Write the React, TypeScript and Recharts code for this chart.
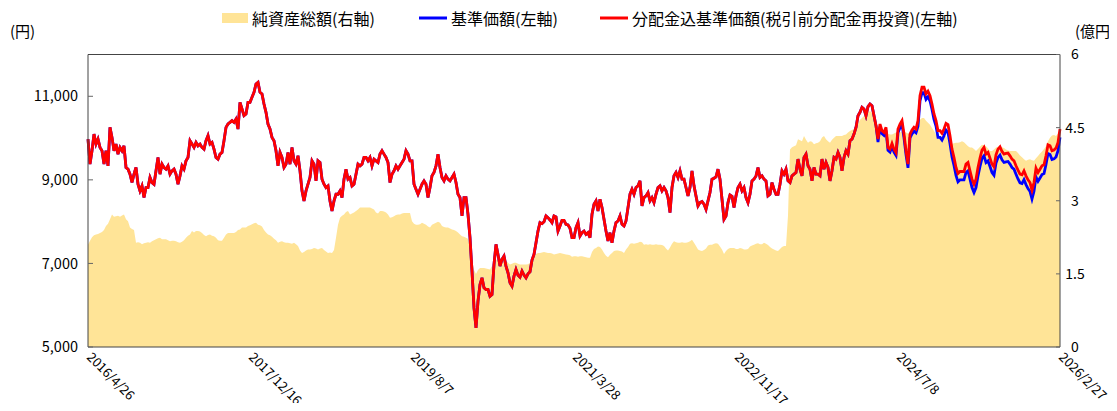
import React from 'react';
import { ComposedChart, Area, Line, XAxis, YAxis, ReferenceLine } from 'recharts';

const tickDates = ['2016/4/26', '2017/12/16', '2019/8/7', '2021/3/28', '2022/11/17', '2024/7/8', '2026/2/27'];
const leftTicks = [5000, 7000, 9000, 11000];
const rightTicks = [0, 1.5, 3, 4.5, 6];

// 分配金込基準価額 (red)
const reinvested = [
  9976, 9376, 9696, 10096, 9856, 9976, 9776, 9696, 9376, 9696,
  9336, 10256, 10016, 9696, 9856, 9616, 9776, 9696, 9816, 9296,
  9256, 9136, 8936, 9136, 9296, 8896, 8736, 8856, 8576, 8816,
  8816, 9056, 8936, 8896, 9216, 9536, 9136, 9376, 9296, 9256,
  9336, 9136, 9216, 9256, 9136, 8896, 9096, 9336, 9256, 9456,
  9536, 9936, 9856, 9776, 9896, 9816, 9856, 9776, 9736, 9936,
  10056, 9856, 9896, 9736, 9536, 9496, 9616, 9656, 9936, 10256,
  10336, 10376, 10416, 10376, 10456, 10216, 10856, 10696, 10536, 10576,
  10856,
  10856, 10976, 11096, 11296, 11336, 11096, 11056, 10816, 10616, 10336,
  10216, 10016, 9936, 9696, 9336, 9656, 9536, 9296, 9376, 9656,
  9376, 9776, 9456, 9376, 9576, 9216, 8736, 8496, 8736, 8896,
  9056, 9456, 9376, 8976, 9456, 9416, 9016, 8896, 8816,
  8856, 8496, 8256, 8496, 8656, 8656, 8736, 8576, 9016, 9256,
  9016, 9056, 8856, 8896, 9136, 9376, 9336, 9376, 9536, 9536,
  9456, 9536, 9336, 9496, 9456, 9416, 9616, 9696, 9616, 9536,
  9416, 8936, 9136, 9216, 9336, 9256, 9336, 9416, 9496, 9696,
  9616, 9456,
  9456, 8896, 8776, 8656, 8776, 8896, 8976, 8896, 8576, 8816,
  9096, 9176, 9336, 9616, 9296, 9056, 8976, 9096, 9016, 8976,
  9056, 9136, 8936, 8656, 8576, 8136, 8576, 8576, 8176, 7616,
  6816, 5936, 5456, 6096, 6496, 6656, 6416, 6376, 6376, 6216,
  6256, 6976, 7456, 7216, 6936, 7096, 7176, 6936, 6776, 6536,
  6456, 6696, 6856, 6720, 6672, 6816, 6720, 6656, 6752, 6800,
  7080, 7216, 7496, 7776, 7976, 7952, 8000, 8136, 8096, 8040,
  7976, 8136, 8112, 7776, 7896, 8032, 8032, 7936, 7920, 7840,
  7616,
  7616, 7856, 7976, 7656, 7736, 7776, 7696, 7736, 7616, 8176,
  8416, 8496, 8256, 8536, 8336, 8056, 7776, 7536, 7736, 7496,
  7776, 7976, 8016, 8136, 7936, 7896, 8016, 8336, 8656, 8776,
  8656, 8816, 8856, 8976, 8376, 8576, 8616, 8696, 8496, 8576,
  8456, 8656, 8816, 8856, 8736, 8816, 8736, 8576, 8216, 8816,
  9096, 9176, 9056, 9216, 9016, 9016, 8816, 8616, 8816, 9216,
  8856, 8616, 8376, 8456, 8480, 8416, 8296, 8496, 8696, 9016,
  9040, 9072, 9256, 9016, 8536, 8056, 8136, 8456, 8640, 8608,
  8336,
  8616, 8816, 8896, 8736, 8816, 8576, 8456, 8656, 8976, 9016,
  9096, 9296, 9056, 9096, 9016, 8976, 8616, 8656, 8936, 8776,
  8656, 8656, 8896, 9216, 9136, 9256, 8976, 8936, 9096, 9136,
  9176, 9496, 9256, 9096, 9536, 9616, 9336, 9256, 8976, 9296,
  9136, 9136, 9096, 9496, 9256, 9416, 9296, 8976, 9216, 9536,
  9496, 9656, 9536, 9216, 9536, 9696, 9616, 9936, 9976, 10096,
  10256, 10536, 10616, 10736, 10696, 10536, 10752, 10816, 10776, 10536,
  10296, 9976, 10336, 10176, 10136, 10256, 9776, 9736, 9872, 9736,
  9656,
  10216, 10336, 10416, 10096, 9696, 9376, 10096, 10192, 10256, 10216,
  10416, 11016, 11216, 11216, 11056, 11120, 11016, 10816, 10576, 10416,
  10176, 10176, 10112, 10216, 10352, 10320, 10056, 9736, 9536, 9296,
  9152, 9200, 9200, 9200, 9376, 9416, 9216, 9016, 8896, 9016,
  9296, 9520, 9712, 9776, 9616, 9656, 9520, 9376, 9312, 9600,
  9736, 9792, 9680, 9616, 9632, 9640, 9576, 9496, 9456, 9336,
  9232, 9136, 9120, 9216, 9096, 9000, 8936, 8752, 8936, 9280,
  9176, 9256, 9336, 9360, 9576, 9840, 9816, 9696, 9712, 9760,
  9896, 10216,
];

// 基準価額 (blue): identical to the red line until distributions begin
const navTail = [
  9906, 10266, 10106, 10066, 10186, 9706, 9666, 9802, 9666, 9586,
  10126, 10246, 10326, 10006, 9606, 9286, 10006, 10102, 10166, 10126,
  10286, 10886, 11086, 11086, 10926, 10990, 10886, 10686, 10446, 10286,
  10016, 10016, 9952, 10056, 10192, 10130, 9866, 9546, 9346, 9106,
  8952, 9000, 9000, 9000, 9176, 9216, 9016, 8816, 8696, 8816,
  9096, 9320, 9512, 9576, 9416, 9456, 9320, 9176, 9112, 9400,
  9536, 9592, 9480, 9416, 9432, 9440, 9376, 9296, 9256, 9136,
  9022, 8926, 8910, 9006, 8886, 8790, 8726, 8542, 8726, 9070,
  8966, 9046, 9126, 9150, 9366, 9630, 9606, 9486, 9502, 9550,
  9696, 10016,
];
const nav = [...reinvested.slice(0, reinvested.length - navTail.length), ...navTail];

// 純資産総額 (億円)
const assets = [
  2.10, 2.18, 2.25, 2.29, 2.31, 2.32, 2.34, 2.36, 2.40, 2.48,
  2.53, 2.62, 2.72, 2.67, 2.68, 2.69, 2.67, 2.70, 2.72, 2.62,
  2.58, 2.45, 2.42, 2.40, 2.14, 2.15, 2.14, 2.11, 2.13, 2.14,
  2.15, 2.14, 2.17, 2.19, 2.21, 2.23, 2.24, 2.21, 2.21, 2.21,
  2.19, 2.17, 2.18, 2.18, 2.17, 2.15, 2.14, 2.16, 2.19, 2.24,
  2.28, 2.31, 2.38, 2.35, 2.38, 2.38, 2.37, 2.34, 2.30, 2.27,
  2.30, 2.31, 2.28, 2.27, 2.24, 2.19, 2.18, 2.18, 2.24, 2.31,
  2.34, 2.34, 2.34, 2.34, 2.36, 2.40, 2.41, 2.45, 2.45, 2.45,
  2.48,
  2.50, 2.52, 2.54, 2.55, 2.51, 2.50, 2.47, 2.40, 2.35, 2.31,
  2.29, 2.26, 2.22, 2.19, 2.14, 2.16, 2.17, 2.15, 2.14, 2.14,
  2.13, 2.12, 2.14, 2.11, 2.07, 1.98, 1.93, 1.95, 1.98, 2.00,
  2.00, 2.01, 2.03, 2.02, 2.00, 2.02, 2.03, 1.99, 1.96, 1.93,
  1.94, 1.93, 1.99, 2.24, 2.51, 2.65, 2.69, 2.72, 2.77, 2.79,
  2.72, 2.74, 2.76, 2.79, 2.82, 2.86, 2.86, 2.86, 2.86, 2.86,
  2.86, 2.84, 2.82, 2.76, 2.74, 2.79, 2.79, 2.78, 2.76, 2.72,
  2.65, 2.66, 2.68, 2.71, 2.72, 2.72, 2.74, 2.75, 2.75, 2.75,
  2.75,
  2.58, 2.53, 2.51, 2.51, 2.52, 2.55, 2.53, 2.51, 2.47, 2.45,
  2.51, 2.53, 2.55, 2.57, 2.55, 2.48, 2.46, 2.45, 2.45, 2.43,
  2.41, 2.40, 2.38, 2.35, 2.31, 2.27, 2.26, 2.24, 2.22, 2.05,
  1.80, 1.58, 1.50, 1.58, 1.62, 1.62, 1.62, 1.61, 1.60, 1.59,
  1.66, 1.76, 1.78, 1.80, 1.83, 1.81, 1.79, 1.77, 1.73, 1.69,
  1.71, 1.73, 1.73, 1.71, 1.69, 1.69, 1.69, 1.69, 1.70, 1.73,
  1.80, 1.86, 1.91, 1.93, 1.93, 1.94, 1.95, 1.94, 1.93, 1.93,
  1.92, 1.90, 1.91, 1.92, 1.93, 1.92, 1.91, 1.90, 1.89, 1.88,
  1.85,
  1.86, 1.86, 1.85, 1.86, 1.86, 1.85, 1.84, 1.83, 1.83, 1.95,
  2.01, 2.03, 2.06, 2.05, 2.00, 1.93, 1.87, 1.84, 1.89, 1.93,
  1.97, 1.98, 1.98, 1.97, 1.96, 1.93, 2.00, 2.05, 2.12, 2.13,
  2.12, 2.13, 2.14, 2.16, 2.15, 2.10, 2.11, 2.10, 2.11, 2.10,
  2.10, 2.11, 2.10, 2.10, 2.09, 2.07, 2.02, 1.98, 2.04, 2.12,
  2.17, 2.15, 2.14, 2.14, 2.15, 2.14, 2.14, 2.15, 2.17, 2.20,
  2.14, 2.07, 2.00, 1.98, 1.97, 1.99, 2.02, 2.08, 2.10, 2.10,
  2.12, 2.13, 2.12, 2.06, 2.00, 1.91, 1.97, 2.01, 2.03, 2.03,
  2.03,
  2.01, 2.01, 2.03, 2.02, 2.00, 2.00, 2.01, 2.06, 2.08, 2.10,
  2.12, 2.13, 2.11, 2.11, 2.14, 2.12, 2.09, 2.05, 2.02, 2.00,
  1.98, 1.97, 2.01, 2.05, 2.07, 2.07, 2.70, 4.05, 4.10, 4.12,
  4.14, 4.26, 4.24, 4.22, 4.33, 4.25, 4.19, 4.22, 4.21, 4.16,
  4.18, 4.19, 4.22, 4.30, 4.33, 4.26, 4.22, 4.19, 4.25, 4.29,
  4.33, 4.33, 4.33, 4.33, 4.35, 4.36, 4.40, 4.43, 4.45, 4.47,
  4.50, 4.58, 4.66, 4.70, 4.74, 4.77, 4.81, 4.84, 4.80, 4.70,
  4.57, 4.54, 4.48, 4.43, 4.42, 4.40, 4.38, 4.36, 4.36, 4.38,
  4.40,
  4.38, 4.40, 4.42, 4.42, 4.40, 4.38, 4.36, 4.38, 4.41, 4.43,
  4.55, 4.66, 4.70, 4.70, 4.64, 4.60, 4.56, 4.49, 4.43, 4.36,
  4.34, 4.33, 4.33, 4.33, 4.33, 4.27, 4.22, 4.17, 4.18, 4.19,
  4.19, 4.20, 4.22, 4.20, 4.16, 4.12, 4.09, 4.09, 4.06, 4.02,
  4.06, 4.11, 4.15, 4.14, 4.12, 4.07, 4.02, 4.02, 4.05, 4.09,
  4.11, 4.11, 4.10, 4.08, 4.05, 4.03, 4.02, 4.02, 4.02, 4.02,
  3.98, 3.93, 3.89, 3.85, 3.82, 3.84, 3.85, 3.83, 3.82, 3.87,
  3.92, 3.97, 4.01, 4.06, 4.12, 4.22, 4.29, 4.34, 4.35, 4.33,
  4.38, 4.43,
];

const parseDate = (s: string) => {
  const [y, m, d] = s.split('/').map(Number);
  return Date.UTC(y, m - 1, d);
};
const fmtDate = (t: number) => {
  const d = new Date(t);
  return `${d.getUTCFullYear()}/${d.getUTCMonth() + 1}/${d.getUTCDate()}`;
};
const T0 = parseDate(tickDates[0]);
const T1 = parseDate(tickDates[tickDates.length - 1]);
const xTicks = tickDates.map(parseDate);

const data = reinvested.map((r, i) => ({
  t: T0 + ((T1 - T0) * i) / (reinvested.length - 1),
  reinvested: r,
  nav: nav[i],
  assets: assets[i],
}));

const FONT = "'Noto Sans CJK JP', 'Noto Sans', sans-serif";
const W = 1101;
const H = 403;

const XTick = (props: any) => {
  const { x, y, payload } = props;
  return (
    <g transform={`translate(${x + 5},${y - 4})`}>
      <text transform="rotate(45)" x={0} y={0} dy="0.75em" textAnchor="start" fontSize={13} fontFamily={FONT} fill="#000">
        {fmtDate(payload.value)}
      </text>
    </g>
  );
};

const RightTick = (props: any) => {
  const { x, y, payload } = props;
  return (
    <text x={x} y={y} dy="0.355em" textAnchor="middle" fontSize={14} fontFamily={FONT} fill="#000">
      {payload.value}
    </text>
  );
};

export default function App() {
  return (
    <div style={{ position: 'relative', width: W, height: H, marginBottom: -8 }}>
      <ComposedChart width={W} height={H} data={data} margin={{ top: 46.5, right: 0, bottom: 8, left: 0 }}>
        <XAxis
          dataKey="t"
          type="number"
          domain={[T0, T1]}
          ticks={xTicks}
          interval={0}
          tickLine={false}
          axisLine={{ stroke: '#444' }}
          height={56}
          tick={<XTick />}
        />
        <YAxis
          yAxisId="left"
          domain={[5000, 12000]}
          ticks={leftTicks}
          interval={0}
          width={80}
          tickSize={-5}
          tickMargin={15}
          tickLine={{ stroke: '#666' }}
          axisLine={{ stroke: '#444' }}
          tickFormatter={(v: number) => v.toLocaleString('en-US')}
          tick={{ fontSize: 14.5, fontFamily: FONT, fill: '#000' }}
        />
        <YAxis
          yAxisId="right"
          orientation="right"
          domain={[0, 6]}
          ticks={rightTicks}
          interval={0}
          width={49}
          tickSize={-4}
          tickMargin={19}
          tickLine={{ stroke: '#666' }}
          axisLine={{ stroke: '#444' }}
          tick={<RightTick />}
        />
        <Area
          yAxisId="right"
          type="linear"
          dataKey="assets"
          fill="#FFE497"
          fillOpacity={1}
          stroke="none"
          isAnimationActive={false}
        />
        <Line yAxisId="left" type="linear" dataKey="nav" stroke="#0000FF" strokeWidth={2.8} dot={false} isAnimationActive={false} />
        <Line yAxisId="left" type="linear" dataKey="reinvested" stroke="#FF0000" strokeWidth={2.8} dot={false} isAnimationActive={false} />
        <ReferenceLine yAxisId="left" y={12000} stroke="#444" />
      </ComposedChart>
      <svg width={W + 8} height={60} style={{ position: 'absolute', left: 0, top: 0, pointerEvents: 'none' }}>
        <g fontFamily={FONT} fill="#000">
          <rect x={214} y={5} width={26} height={10} fill="#FFE497" />
          <text x={244} y={10} fontSize={16} dominantBaseline="central">純資産総額(右軸)</text>
          <line x1={411} x2={439} y1={10} y2={10} stroke="#0000FF" strokeWidth={3} />
          <text x={443} y={10} fontSize={16} dominantBaseline="central">基準価額(左軸)</text>
          <line x1={592} x2={620} y1={10} y2={10} stroke="#FF0000" strokeWidth={3} />
          <text x={624} y={10} fontSize={16} dominantBaseline="central">分配金込基準価額(税引前分配金再投資)(左軸)</text>
          <text x={2} y={22} fontSize={15} dominantBaseline="central">(円)</text>
          <text x={1067} y={22} fontSize={15} dominantBaseline="central">(億円)</text>
        </g>
      </svg>
    </div>
  );
}
